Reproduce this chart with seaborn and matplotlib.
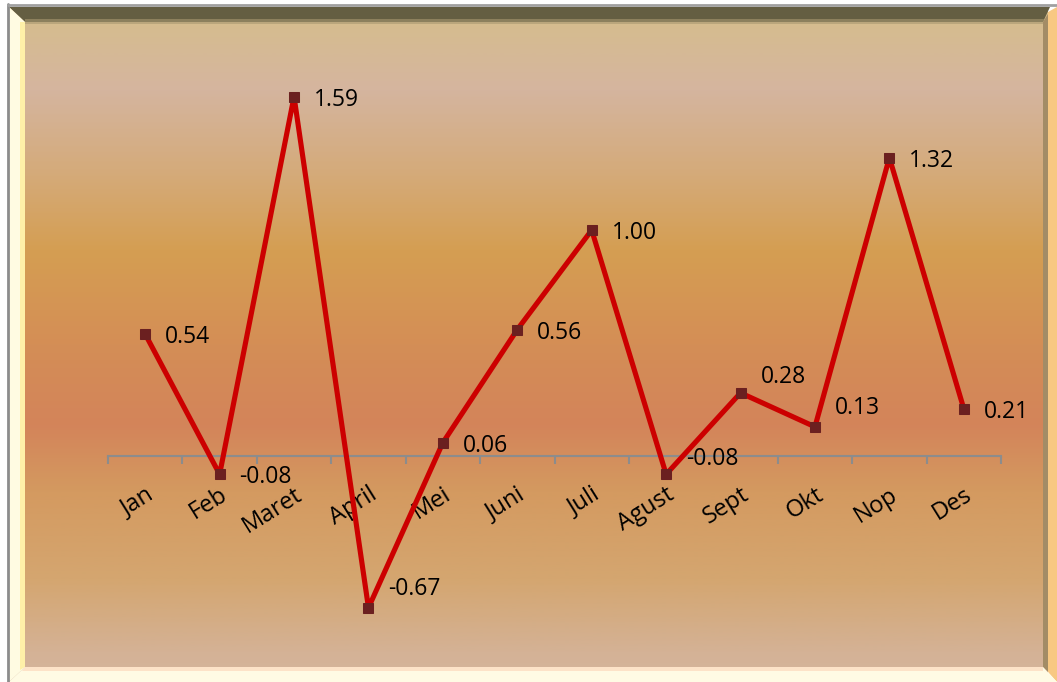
import numpy as np
import pandas as pd
import matplotlib
matplotlib.use("Agg")
import matplotlib.pyplot as plt
from matplotlib.colors import LinearSegmentedColormap
from matplotlib.patches import Polygon
import seaborn as sns

# ---- data ----
months = ["Jan", "Feb", "Maret", "April", "Mei", "Juni", "Juli",
          "Agust", "Sept", "Okt", "Nop", "Des"]
values = [0.54, -0.08, 1.59, -0.67, 0.06, 0.56, 1.00,
          -0.08, 0.28, 0.13, 1.32, 0.21]
labels = ["0.54", "-0.08", "1.59", "-0.67", "0.06", "0.56", "1.00",
          "-0.08", "0.28", "0.13", "1.32", "0.21"]
# vertical nudges of the value labels (pixels, positive = up)
label_dy = [0, 0, 0, 22, 0, 0, 0, 18, 19, 22, 0, 0]

df = pd.DataFrame({"month": months, "value": values})

sns.set_theme(style="white")
plt.rcParams["font.family"] = ["Open Sans", "DejaVu Sans"]

W, H = 1057, 682
fig = plt.figure(figsize=(W / 100, H / 100), dpi=100)
fig.patch.set_facecolor("white")

# ---- background / frame (pixel coordinates) ----
bg = fig.add_axes([0, 0, 1, 1])
bg.set_xlim(0, W)
bg.set_ylim(H, 0)
bg.axis("off")

grad_stops = [
    (0.00, "#d6be8b"),
    (0.12, "#d5b59f"),
    (0.25, "#d4aa78"),
    (0.36, "#d59e52"),
    (0.50, "#d48e56"),
    (0.62, "#d3845a"),
    (0.72, "#d49a60"),
    (0.85, "#d4a670"),
    (0.96, "#d4b296"),
    (1.00, "#d5b59c"),
]
cmap = LinearSegmentedColormap.from_list("bggrad", grad_stops)
grad = np.linspace(0, 1, 400).reshape(-1, 1)
bg.imshow(grad, cmap=cmap, aspect="auto", extent=(9, 1048, 682, 7),
          interpolation="bilinear", zorder=0)

# bevels
bg.add_patch(Polygon([(9, 7), (1050, 7), (1043, 22), (25, 22)],
                     closed=True, facecolor="#645e42", edgecolor="none", zorder=1))
bg.add_patch(Polygon([(25, 19), (1044, 19), (1043, 24), (25, 24)],
                     closed=True, facecolor="#a89870", edgecolor="none", zorder=1, alpha=0.6))
bg.add_patch(Polygon([(9, 7), (25, 22), (25, 667), (9, 682)],
                     closed=True, facecolor="#fffbe2", edgecolor="none", zorder=2))
bg.add_patch(Polygon([(20, 22), (25, 22), (25, 667), (20, 670)],
                     closed=True, facecolor="#fff0a8", edgecolor="none", zorder=2))
bg.add_patch(Polygon([(9, 682), (25, 667), (1043, 667), (1057, 682)],
                     closed=True, facecolor="#fffbe4", edgecolor="none", zorder=2))
bg.add_patch(Polygon([(25, 667), (1043, 667), (1043, 671), (22, 671)],
                     closed=True, facecolor="#fde3c8", edgecolor="none", zorder=2))
bg.add_patch(Polygon([(1048, 12), (1057, 7), (1057, 682), (1048, 672)],
                     closed=True, facecolor="#f8c882", edgecolor="none", zorder=1))
bg.add_patch(Polygon([(1043, 22), (1048, 14), (1048, 672), (1043, 667)],
                     closed=True, facecolor="#a38c66", edgecolor="none", zorder=1))
# outer thin grey border
bg.plot([8, 8], [4, 682], color="#8c8c8c", lw=2, zorder=3)
bg.plot([8, 1057], [5, 5], color="#a0a0a0", lw=2, zorder=3)

# ---- main chart ----
ax_left, ax_right = 108, 1001
ax_top, ax_bot = 22, 667
ax = fig.add_axes([ax_left / W, (H - ax_bot) / H,
                   (ax_right - ax_left) / W, (ax_bot - ax_top) / H])
ax.patch.set_alpha(0)

sns.lineplot(data=df, x="month", y="value", ax=ax, color="#cc0000",
             linewidth=3.7, marker="s", markersize=7,
             markerfacecolor="#6b2020", markeredgecolor="#6b2020",
             sort=False, zorder=5)

ax.set_xlim(-0.5, len(months) - 0.5)
ax.set_ylim(-0.932, 1.920)

for s in ["top", "right", "left"]:
    ax.spines[s].set_visible(False)
ax.spines["bottom"].set_position(("data", 0))
ax.spines["bottom"].set_color("#8c8c8c")
ax.spines["bottom"].set_linewidth(1.5)
ax.spines["bottom"].set_zorder(2)

ax.set_yticks([])
ax.set_xticks(np.arange(-0.5, len(months), 1.0))
ax.set_xticklabels([])
ax.tick_params(axis="x", which="major", length=6, width=1.5,
               color="#8c8c8c", direction="out", bottom=True)
ax.set_xticks(np.arange(len(months)), minor=True)
ax.set_xticklabels(months, minor=True, fontsize=17, color="black")
ax.tick_params(axis="x", which="minor", length=0, pad=19)
for lab in ax.get_xticklabels(minor=True):
    lab.set_rotation(32)
    lab.set_ha("right")
    lab.set_va("top")
    lab.set_rotation_mode("anchor")
ax.set_xlabel("")
ax.set_ylabel("")

for i, (v, t, dy) in enumerate(zip(values, labels, label_dy)):
    ax.annotate(t, xy=(i, v), xytext=(20, dy - 3), textcoords="offset pixels",
                ha="left", va="center", fontsize=16.5, color="black", zorder=6)

fig.savefig("out.png", dpi=100)
